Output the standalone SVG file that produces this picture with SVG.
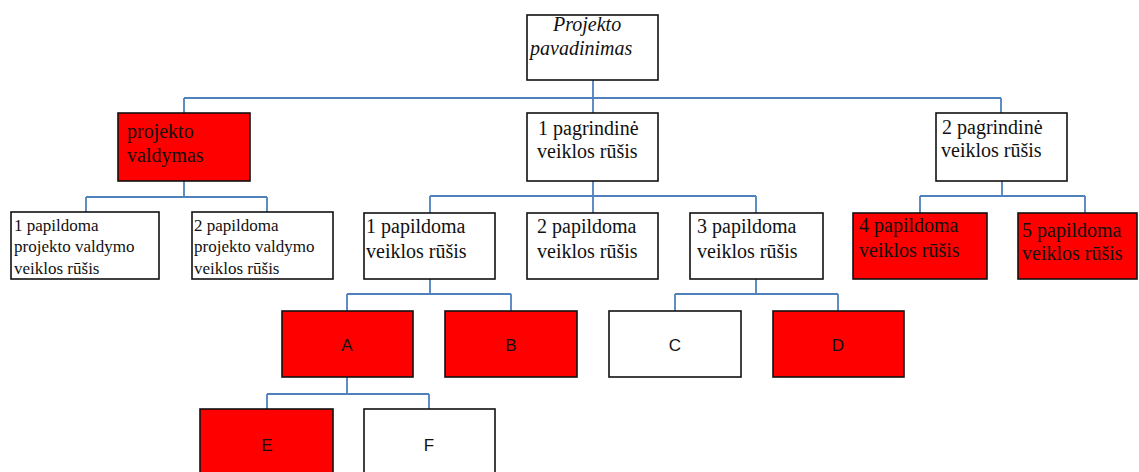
<svg xmlns="http://www.w3.org/2000/svg" width="1139" height="472" viewBox="0 0 1139 472">
<style>
.box{stroke:#111;stroke-width:1.6;fill:#fff}
.red{fill:#ff0000}
.t{font-family:"Liberation Serif","Times New Roman",serif;font-size:20px;fill:#111}
.s{font-size:17px}
.it{font-style:italic}
.l{font-family:"Liberation Sans",Arial,sans-serif;font-size:17px;fill:#111;text-anchor:middle}
.c{stroke:#4f81bd;stroke-width:1.8;fill:none}
</style>
<rect width="1139" height="472" fill="#fff"/>
<g id="connectors">
<path class="c" d="M593 80V98M184 98H1001M184 98V113M593 98V113M1001 98V113"/>
<path class="c" d="M184 181V197M86 197H267M86 197V212M267 197V212"/>
<path class="c" d="M593 181V196M430 196H756M430 196V213M593 196V213M756 196V213"/>
<path class="c" d="M1002 181V196M920 196H1085M920 196V213M1085 196V213"/>
<path class="c" d="M430 279V294M347 294H511M347 294V311M511 294V311"/>
<path class="c" d="M756 279V294M675 294H838M675 294V311M838 294V311"/>
<path class="c" d="M347 377V394M267 394H429M267 394V409M429 394V409"/>
</g>
<g id="root"><rect class="box" x="527" y="15" width="131" height="65"/>
<text class="t it" x="553" y="31">Projekto</text><text class="t it" x="530" y="55">pavadinimas</text></g>
<g id="pv"><rect class="box red" x="118" y="113" width="132" height="68"/>
<text class="t" x="127" y="138">projekto</text><text class="t" x="127" y="162">valdymas</text></g>
<g id="p1"><rect class="box" x="527" y="113" width="131" height="68"/>
<text class="t" x="538" y="135">1 pagrindinė</text><text class="t" x="537" y="158">veiklos rūšis</text></g>
<g id="p2"><rect class="box" x="936" y="113" width="131" height="68"/>
<text class="t" x="942" y="134">2 pagrindinė</text><text class="t" x="941" y="157">veiklos rūšis</text></g>
<g id="pvd1"><rect class="box" x="11" y="212" width="148" height="67"/>
<text class="t s" x="14" y="231">1 papildoma</text><text class="t s" x="14" y="252">projekto valdymo</text><text class="t s" x="14" y="274">veiklos rūšis</text></g>
<g id="pvd2"><rect class="box" x="192" y="212" width="141" height="67"/>
<text class="t s" x="194" y="231">2 papildoma</text><text class="t s" x="194" y="252">projekto valdymo</text><text class="t s" x="194" y="274">veiklos rūšis</text></g>
<g id="v1"><rect class="box" x="364" y="213" width="131" height="66"/>
<text class="t" x="366" y="233">1 papildoma</text><text class="t" x="366" y="258">veiklos rūšis</text></g>
<g id="v2"><rect class="box" x="527" y="213" width="131" height="66"/>
<text class="t" x="537" y="233">2 papildoma</text><text class="t" x="537" y="258">veiklos rūšis</text></g>
<g id="v3"><rect class="box" x="690" y="213" width="133" height="66"/>
<text class="t" x="697" y="233">3 papildoma</text><text class="t" x="697" y="258">veiklos rūšis</text></g>
<g id="v4"><rect class="box red" x="853" y="213" width="134" height="66"/>
<text class="t" x="859" y="232">4 papildoma</text><text class="t" x="859" y="257">veiklos rūšis</text></g>
<g id="v5"><rect class="box red" x="1018" y="213" width="119" height="66"/>
<text class="t" x="1022" y="237">5 papildoma</text><text class="t" x="1022" y="260">veiklos rūšis</text></g>
<g id="A"><rect class="box red" x="282" y="311" width="131" height="66"/><text class="l" x="347" y="351">A</text></g>
<g id="B"><rect class="box red" x="445" y="311" width="132" height="66"/><text class="l" x="511" y="351">B</text></g>
<g id="C"><rect class="box" x="609" y="311" width="132" height="66"/><text class="l" x="675" y="351">C</text></g>
<g id="D"><rect class="box red" x="773" y="311" width="131" height="66"/><text class="l" x="838" y="351">D</text></g>
<g id="E"><rect class="box red" x="200" y="409" width="133" height="80"/><text class="l" x="267" y="451">E</text></g>
<g id="F"><rect class="box" x="364" y="409" width="131" height="80"/><text class="l" x="429" y="451">F</text></g>
</svg>
